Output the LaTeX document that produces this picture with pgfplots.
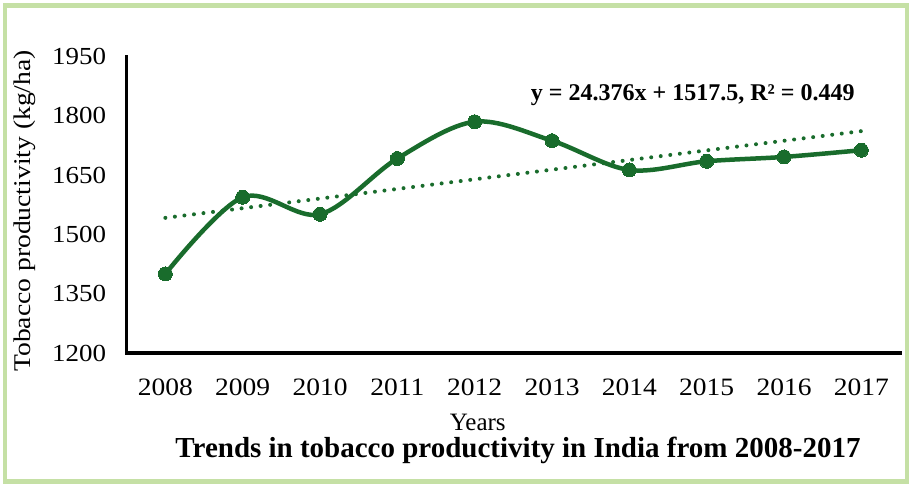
\documentclass[border=0pt]{standalone}
\usepackage{fontspec}
\setmainfont{Liberation Serif}
\newfontfamily\tickfont[FakeStretch=1.1]{Liberation Serif}
\newfontfamily\labfont[FakeStretch=1.15]{Liberation Serif}
\usepackage{pgfplots}
\pgfplotsset{compat=1.18}

\definecolor{linegreen}{RGB}{25,108,44}
\definecolor{framegreen}{RGB}{197,224,165}

% Tobacco productivity (kg/ha), India
\pgfplotstableread{
idx year yield
0 2008 1400
1 2009 1594
2 2010 1551
3 2011 1692
4 2012 1785
5 2013 1737
6 2014 1663
7 2015 1685
8 2016 1696
9 2017 1713
}\yielddata

% Linear trend y = 24.376x + 1517.5 at x = 1 and x = 10
\pgfplotstableread{
idx trend
0 1541.876
9 1761.260
}\trenddata

\begin{document}
\begin{tikzpicture}
\path[use as bounding box, fill=white] (0pt,0pt) rectangle (909pt,483pt);
\draw[line width=4.5pt, framegreen] (5pt,1.5pt) rectangle (907pt,477.5pt);
\begin{axis}[
  at={(126.7pt,130pt)}, anchor=south west,
  scale only axis, width=773.3pt, height=296.5pt,
  xmin=-0.5, xmax=9.5, ymin=1200, ymax=1950,
  xtick={0,...,9},
  xticklabels={2008,2009,2010,2011,2012,2013,2014,2015,2016,2017},
  ytick={1200,1350,...,1950},
  axis x line*=bottom, axis y line*=left,
  axis line style={-, line width=3.5pt, black},
  major tick length=0pt,
  clip=false,
  /pgf/number format/assume math mode=true,
  /pgf/number format/1000 sep={},
  xticklabel style={font=\tickfont\fontsize{25}{28}\selectfont, anchor=base, inner sep=0pt, yshift=-42pt},
  yticklabel style={font=\tickfont\fontsize{24.5}{28}\selectfont, anchor=east, inner sep=0pt, xshift=-20.5pt},
  xlabel={Years},
  xlabel style={at={(axis description cs:0.454,-0.26)}, anchor=base, font=\fontsize{25}{28}\selectfont},
  ylabel={Tobacco productivity (kg/ha)},
  ylabel style={at={(axis description cs:-0.1315,0.479)}, anchor=center, font=\labfont\fontsize{24}{28}\selectfont},
  title={Trends in tobacco productivity in India from 2008-2017},
  title style={at={(axis description cs:0.506,-0.371)}, anchor=base, font=\bfseries\fontsize{29}{32}\selectfont},
]
% heavy left and bottom axis lines
\draw[black, line width=3.5pt, line cap=rect]
  (rel axis cs:0,1) -- (rel axis cs:0,0) -- (rel axis cs:1,0);
\addplot[linegreen, line width=4pt, dash pattern=on 0pt off 9.6pt, line cap=round]
  table[x=idx, y=trend] {\trenddata};
\addplot[linegreen, line width=4.5pt, smooth, tension=0.55,
  mark=*, mark size=7pt, mark options={solid, fill=linegreen, draw=linegreen, line width=0pt}]
  table[x=idx, y=yield] {\yielddata};
\node[anchor=base, font=\bfseries\fontsize{24}{28}\selectfont, inner sep=0pt]
  at (axis description cs:0.732,0.853) {y = 24.376x + 1517.5, R² = 0.449};
\end{axis}
\end{tikzpicture}
\end{document}
